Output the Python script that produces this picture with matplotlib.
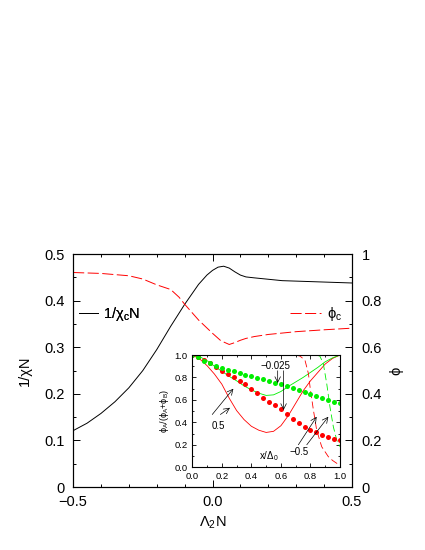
import numpy as np
import matplotlib
matplotlib.use("Agg")
import matplotlib.pyplot as plt
from matplotlib.ticker import MultipleLocator, FuncFormatter, FormatStrFormatter

plt.rcParams['font.family'] = ['Liberation Sans', 'DejaVu Sans']
plt.rcParams['mathtext.fontset'] = 'custom'
plt.rcParams['mathtext.rm'] = 'Liberation Sans'
plt.rcParams['mathtext.it'] = 'Liberation Sans:italic'
plt.rcParams['lines.scale_dashes'] = False

# ---- main panel data ----
lam_chi = [-0.5, -0.45, -0.40, -0.35, -0.30, -0.25, -0.20, -0.15, -0.10, -0.05, -0.02,
           0.00, 0.02, 0.04, 0.06, 0.08, 0.10, 0.12, 0.15, 0.20, 0.25, 0.30, 0.35, 0.40, 0.45, 0.50]
inv_chi = [0.121, 0.137, 0.158, 0.183, 0.213, 0.250, 0.295, 0.345, 0.392, 0.435, 0.455,
           0.465, 0.472, 0.474, 0.470, 0.462, 0.455, 0.451, 0.449, 0.446, 0.443, 0.442, 0.441, 0.440, 0.439, 0.438]

lam_phi = [-0.5, -0.4, -0.3, -0.25, -0.2, -0.15, -0.12, -0.10, -0.05, 0.0, 0.03, 0.06, 0.08,
           0.10, 0.12, 0.15, 0.2, 0.3, 0.4, 0.5]
phi_c = [0.921, 0.917, 0.907, 0.893, 0.868, 0.848, 0.815, 0.785, 0.717, 0.660, 0.628, 0.612, 0.620,
         0.630, 0.638, 0.646, 0.655, 0.667, 0.675, 0.682]

# ---- inset data ----
xi_line = [0.0, 0.05, 0.1, 0.15, 0.2, 0.25, 0.3, 0.35, 0.4, 0.45, 0.5, 0.55, 0.6, 0.65, 0.7,
           0.75, 0.8, 0.85, 0.9, 0.95, 1.0]
red_solid = [1.0, 0.965, 0.905, 0.83, 0.74, 0.615, 0.505, 0.425, 0.365, 0.33, 0.31, 0.32, 0.37,
             0.46, 0.57, 0.68, 0.77, 0.845, 0.92, 0.97, 1.0]
green_solid = [1.0, 0.985, 0.95, 0.90, 0.855, 0.81, 0.77, 0.725, 0.69, 0.66, 0.64, 0.645, 0.675,
               0.72, 0.76, 0.80, 0.845, 0.89, 0.94, 0.975, 1.0]

xi_rdash = [0.0, 0.6, 0.70, 0.73, 0.763, 0.786, 0.80, 0.82, 0.842, 0.876, 0.921, 0.95, 0.978, 1.0]
red_dash = [1.0, 1.0, 1.0, 0.99, 0.953, 0.835, 0.686, 0.509, 0.331, 0.183, 0.094, 0.06, 0.035, 0.02]

xi_gdash = [0.0, 0.7, 0.84, 0.864, 0.887, 0.91, 0.932, 0.955, 0.978, 1.0]
green_dash = [1.0, 1.0, 1.0, 0.99, 0.923, 0.746, 0.538, 0.36, 0.242, 0.183]

xi_dots = [0.0, 0.04, 0.08, 0.12, 0.16, 0.20, 0.24, 0.28, 0.32, 0.36, 0.40, 0.44, 0.48, 0.52,
           0.56, 0.60, 0.64, 0.68, 0.72, 0.76, 0.80, 0.84, 0.88, 0.92, 0.96, 1.0]
red_dots = [1.0, 0.985, 0.96, 0.925, 0.89, 0.86, 0.83, 0.80, 0.77, 0.74, 0.70, 0.66, 0.62, 0.58,
            0.555, 0.515, 0.47, 0.43, 0.39, 0.355, 0.33, 0.31, 0.285, 0.27, 0.255, 0.24]
green_dots = [1.0, 0.98, 0.95, 0.925, 0.90, 0.885, 0.87, 0.855, 0.84, 0.825, 0.81, 0.795, 0.785,
              0.77, 0.755, 0.74, 0.725, 0.71, 0.69, 0.67, 0.655, 0.635, 0.615, 0.60, 0.585, 0.575]

GREEN = '#00ee00'

fig = plt.figure(figsize=(4.25, 5.5), dpi=100)
ax = fig.add_axes([0.172, 0.1145, 0.656, 0.4235])
ax2 = ax.twinx()

l1, = ax.plot(lam_chi, inv_chi, color='black', lw=0.7)
l2, = ax2.plot(lam_phi, phi_c, color='red', lw=0.7, ls=(0, (8, 2.5)))

ax.set_xlim(-0.5, 0.5)
ax.set_ylim(0, 0.5)
ax2.set_ylim(0, 1)
ax.xaxis.set_major_locator(MultipleLocator(0.5))
ax.xaxis.set_minor_locator(MultipleLocator(0.1))
ax.yaxis.set_major_locator(MultipleLocator(0.1))
ax.yaxis.set_minor_locator(MultipleLocator(0.05))
ax2.yaxis.set_major_locator(MultipleLocator(0.2))
ax2.yaxis.set_minor_locator(MultipleLocator(0.1))
ax.xaxis.set_major_formatter(FuncFormatter(
    lambda v, p: ('%.1f' % v).replace('-', '\u2212')))
ax.yaxis.set_major_formatter(FuncFormatter(
    lambda v, p: '0' if abs(v) < 1e-9 else '%.1f' % v))
ax2.yaxis.set_major_formatter(FuncFormatter(
    lambda v, p: '%d' % round(v) if abs(v - round(v)) < 1e-9 else '%.1f' % v))

ax.tick_params(which='both', direction='in', top=True, right=False, labelsize=10.5)
ax.tick_params(which='major', length=5, width=0.7, pad=6)
ax.tick_params(which='minor', length=2.5, width=0.7)
ax2.tick_params(which='both', direction='in', labelsize=10.5)
ax2.tick_params(which='major', length=5, width=0.7, pad=7)
ax2.tick_params(which='minor', length=2.5, width=0.7)
for a in (ax, ax2):
    for s in a.spines.values():
        s.set_linewidth(0.8)

ax.set_xlabel('\u039b$_2$N', fontsize=10.5, labelpad=4)
ax.set_ylabel('1/\u03c7N', fontsize=10.5, labelpad=9)
ax2.set_ylabel('\u03d5', fontsize=10.5, labelpad=5)

leg1 = ax.legend([l1], ['1/\u03c7$_\\mathrm{c}$N'], loc='center left',
                 bbox_to_anchor=(0.0, 0.742), frameon=False, fontsize=10.5,
                 handlelength=1.3, handletextpad=0.35, borderaxespad=0.0)
ax.add_artist(leg1)
leg2 = ax2.legend([l2], ['\u03d5$_\\mathrm{c}$'], loc='center right',
                  bbox_to_anchor=(1.0, 0.742), frameon=False, fontsize=10.5,
                  handlelength=2.1, handletextpad=0.4, borderaxespad=0.3)

# ---- inset ----
ins = fig.add_axes([0.4525, 0.1505, 0.3475, 0.204])
ins.plot(xi_line, red_solid, color='red', lw=0.6)
ins.plot(xi_line, green_solid, color=GREEN, lw=0.6)
ins.plot(xi_rdash, red_dash, color='red', lw=0.6, ls=(0, (5, 2.5)))
ins.plot(xi_gdash, green_dash, color=GREEN, lw=0.6, ls=(0, (5, 2.5)))
ins.plot(xi_dots, red_dots, 'o', color='red', ms=3.6, mew=0)
ins.plot(xi_dots, green_dots, 'o', color=GREEN, ms=3.6, mew=0)
ins.set_xlim(0, 1)
ins.set_ylim(0, 1)
for axis in (ins.xaxis, ins.yaxis):
    axis.set_major_locator(MultipleLocator(0.2))
    axis.set_minor_locator(MultipleLocator(0.1))
ins.xaxis.set_major_formatter(FormatStrFormatter('%.1f'))
ins.yaxis.set_major_formatter(FormatStrFormatter('%.1f'))
ins.tick_params(which='both', direction='in', top=True, right=True, labelsize=6.8, width=0.6)
ins.tick_params(which='major', length=3, pad=3.5)
ins.tick_params(which='minor', length=1.5)
for s in ins.spines.values():
    s.set_linewidth(0.8)
ins.set_ylabel('\u03d5$_\\mathrm{A}$/(\u03d5$_\\mathrm{A}$+\u03d5$_\\mathrm{B}$)', fontsize=6.5, labelpad=2)

afs = 7
ap = dict(arrowstyle='->', color='black', lw=0.5, shrinkA=0, shrinkB=0)
ins.text(0.56, 0.90, '\u22120.025', fontsize=afs, ha='center', va='center')
ins.annotate('', xy=(0.578, 0.75), xytext=(0.578, 0.86), arrowprops=ap)
ins.annotate('', xy=(0.618, 0.51), xytext=(0.618, 0.86), arrowprops=ap)
ins.text(0.176, 0.367, '0.5', fontsize=afs, ha='center', va='center')
ins.annotate('', xy=(0.278, 0.70), xytext=(0.135, 0.47), arrowprops=ap)
ins.annotate('', xy=(0.255, 0.53), xytext=(0.19, 0.47), arrowprops=ap)
ins.text(0.725, 0.14, '\u22120.5', fontsize=afs, ha='center', va='center')
ins.annotate('', xy=(0.842, 0.45), xytext=(0.718, 0.20), arrowprops=ap)
ins.annotate('', xy=(0.921, 0.45), xytext=(0.775, 0.20), arrowprops=ap)
ins.text(0.515, 0.10, 'x/\u0394$_0$', fontsize=afs, ha='center', va='center')

fig.savefig('out.png', dpi=100)
